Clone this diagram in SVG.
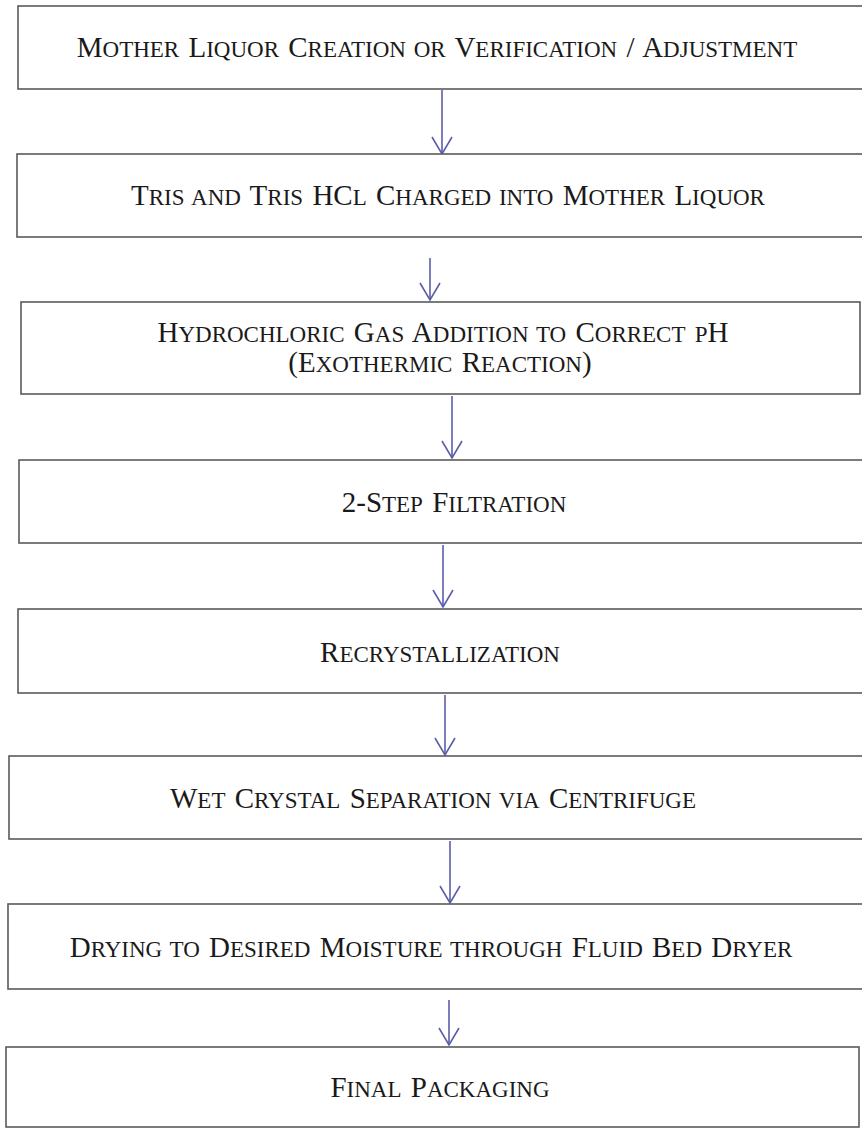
<svg xmlns="http://www.w3.org/2000/svg" width="862" height="1129" viewBox="0 0 862 1129">
<defs>
<style>
.box{fill:#ffffff;stroke:#5a5a5a;stroke-width:1.6}
.t{font-family:"Liberation Serif","Times New Roman",serif;font-size:29px;fill:#1a1a1a;text-anchor:middle;word-spacing:2px}
.s{font-size:23px}
.c{fill:none;stroke:#5a5ea8;stroke-width:1.6}
</style>
<marker id="ah" markerUnits="userSpaceOnUse" viewBox="-20 -20 40 40" markerWidth="40" markerHeight="40" refX="0" refY="0" orient="auto" overflow="visible">
<path d="M-17,-10 L0,0 L-17,10" fill="none" stroke="#5a5ea8" stroke-width="1.6"/>
</marker>
</defs>
<rect width="862" height="1129" fill="#ffffff"/>
<g id="connectors">
<path class="c" d="M442,90 V154" marker-end="url(#ah)"/>
<path class="c" d="M430,258 V300" marker-end="url(#ah)"/>
<path class="c" d="M452,396 V458" marker-end="url(#ah)"/>
<path class="c" d="M443,545 V607" marker-end="url(#ah)"/>
<path class="c" d="M445,695 V755" marker-end="url(#ah)"/>
<path class="c" d="M450,841 V903" marker-end="url(#ah)"/>
<path class="c" d="M449,1000 V1045" marker-end="url(#ah)"/>
</g>
<g id="n1">
<rect class="box" x="18" y="6" width="850" height="83"/>
<text class="t" x="437" y="57">M<tspan class="s">OTHER</tspan> L<tspan class="s">IQUOR</tspan> C<tspan class="s">REATION OR</tspan> V<tspan class="s">ERIFICATION</tspan> / A<tspan class="s">DJUSTMENT</tspan></text>
</g>
<g id="n2">
<rect class="box" x="17" y="154" width="850" height="83"/>
<text class="t" x="448" y="205">T<tspan class="s">RIS AND</tspan> T<tspan class="s">RIS</tspan> HC<tspan class="s">L</tspan> C<tspan class="s">HARGED INTO</tspan> M<tspan class="s">OTHER</tspan> L<tspan class="s">IQUOR</tspan></text>
</g>
<g id="n3">
<rect class="box" x="21" y="302" width="839" height="92"/>
<text class="t" x="443" y="342">H<tspan class="s">YDROCHLORIC</tspan> G<tspan class="s">AS</tspan> A<tspan class="s">DDITION TO</tspan> C<tspan class="s">ORRECT</tspan> <tspan class="s">P</tspan>H</text>
<text class="t" x="440" y="372">(E<tspan class="s">XOTHERMIC</tspan> R<tspan class="s">EACTION</tspan>)</text>
</g>
<g id="n4">
<rect class="box" x="19" y="460" width="850" height="83"/>
<text class="t" x="454" y="512">2-S<tspan class="s">TEP</tspan> F<tspan class="s">ILTRATION</tspan></text>
</g>
<g id="n5">
<rect class="box" x="18" y="609" width="850" height="84"/>
<text class="t" x="440" y="662">R<tspan class="s">ECRYSTALLIZATION</tspan></text>
</g>
<g id="n6">
<rect class="box" x="9" y="756" width="860" height="83"/>
<text class="t" x="433" y="808">W<tspan class="s">ET</tspan> C<tspan class="s">RYSTAL</tspan> S<tspan class="s">EPARATION VIA</tspan> C<tspan class="s">ENTRIFUGE</tspan></text>
</g>
<g id="n7">
<rect class="box" x="8" y="904" width="860" height="85"/>
<text class="t" x="431" y="957">D<tspan class="s">RYING TO</tspan> D<tspan class="s">ESIRED</tspan> M<tspan class="s">OISTURE THROUGH</tspan> F<tspan class="s">LUID</tspan> B<tspan class="s">ED</tspan> D<tspan class="s">RYER</tspan></text>
</g>
<g id="n8">
<rect class="box" x="6" y="1047" width="853" height="80"/>
<text class="t" x="440" y="1097">F<tspan class="s">INAL</tspan> P<tspan class="s">ACKAGING</tspan></text>
</g>
</svg>
